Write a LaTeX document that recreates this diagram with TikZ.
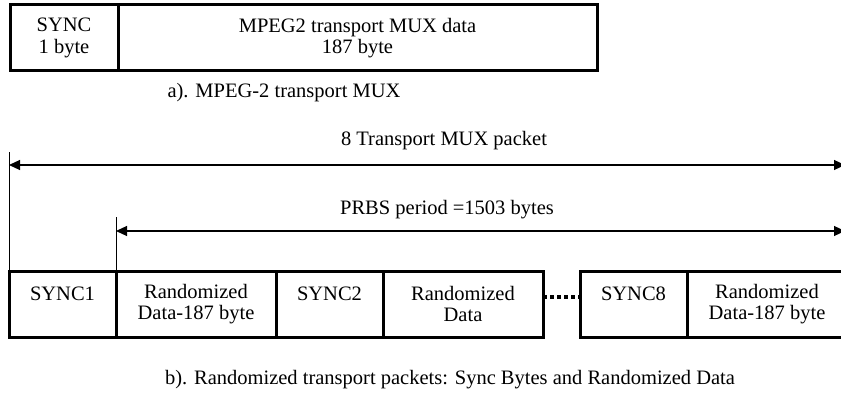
\documentclass[tikz,border=0pt]{standalone}
\usepackage{fontspec}
\setmainfont{Liberation Serif}
\usetikzlibrary{positioning,arrows.meta}

\tikzset{
          cell/.style = {draw = black, line width = 3pt, rectangle, outer sep = 0pt, inner sep = 0pt,
                         minimum height = 66pt, align = center, font = \fontsize{20.5}{21.5}\selectfont},
          syncbox/.style = {cell, minimum width = 107pt},
          databox/.style = {cell, minimum width = 160pt},
          dim/.style = {line width = 1.1pt, {Triangle[length=11pt,width=10pt]}-{Triangle[length=11pt,width=10pt]}},
          tick/.style = {draw = black, line width = 1pt},
          dots/.style = {line width = 3.5pt, dash pattern = on 4pt off 3pt},
          lbl/.style = {font = \fontsize{20.5}{22}\selectfont, anchor = center}
        }

\begin{document}
\begin{tikzpicture}[x=1pt,y=-1pt]
          \useasboundingbox (0,0) rectangle (841,396);

          % a) one transport packet
          \node[cell, minimum width = 108pt, anchor = north west] (sync) at (10,5) {SYNC\\1 byte};
          \node[cell, minimum width = 479pt, right = 0pt of sync] (mux) {MPEG2 transport MUX data\\187 byte};
          \node[lbl] (capa) at (284,93) {a). MPEG-2 transport MUX};

          % b) eight packets after randomization
          \node[syncbox, anchor = north west] (s1) at (9,271) {SYNC1\\~};
          \node[databox, right = 0pt of s1] (d1) {Randomized\\Data-187 byte};
          \node[syncbox, right = 0pt of d1] (s2) {SYNC2\\~};
          \node[databox, right = 0pt of s2] (d2) {Randomized\\Data};
          \node[syncbox, right = 37pt of d2] (s8) {SYNC8\\~};
          \node[databox, right = 0pt of s8] (d8) {Randomized\\Data-187 byte};
          \draw[dots] ([yshift=7pt]d2.east) -- ([yshift=7pt]s8.west);

          \draw[tick] (s1.north west) -- ++(0,-119) coordinate (t1);
          \draw[tick] (d1.north west) -- ++(0,-54) coordinate (t2);

          \coordinate (pktend) at (845,165);
          \coordinate (prbsend) at (845,231);
          \draw[dim] (s1.west |- pktend) -- (pktend);
          \draw[dim] (d1.west |- prbsend) -- (prbsend);

          \node[lbl] (pkt) at (444,141) {8 Transport MUX packet};
          \node[lbl] (prbs) at (447,210) {PRBS period =1503 bytes};
          \node[lbl] (capb) at (450,380) {b). Randomized transport packets: Sync Bytes and Randomized Data};
        \end{tikzpicture}
\end{document}
